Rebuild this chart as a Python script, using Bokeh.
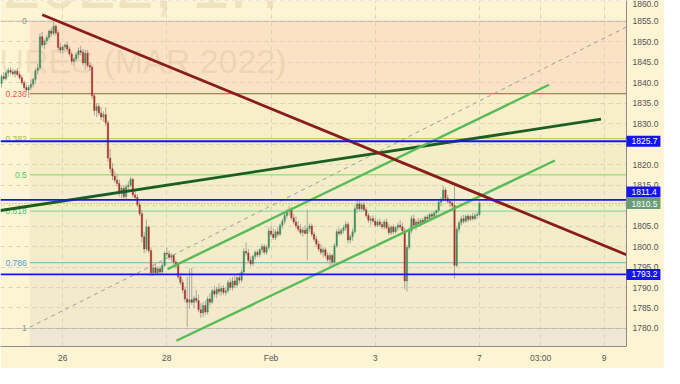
from bokeh.plotting import figure
from bokeh.models import Range1d, FixedTicker, PrintfTickFormatter, ColumnDataSource
from bokeh.embed import file_html
from bokeh.resources import INLINE
from bokeh.core.properties import value

# ---------------- data (1H candles, GCH2022) ----------------
bar_open = [
    1839.8, 1841.5, 1841.0, 1842.4, 1843.0, 1842.6, 1842.2, 1842.8, 1842.0, 1841.2,
    1840.0, 1838.8, 1838.2, 1838.9, 1839.6, 1840.8, 1842.9, 1843.6, 1851.2, 1849.2,
    1850.2, 1851.0, 1852.6, 1852.0, 1853.8, 1852.2, 1848.6, 1848.0, 1848.7, 1849.2,
    1848.2, 1847.0, 1845.2, 1845.8, 1846.8, 1847.8, 1847.4, 1844.8, 1847.2, 1844.2,
    1843.8, 1836.8, 1833.2, 1834.2, 1832.6, 1831.6, 1832.2, 1830.2, 1821.6, 1819.0,
    1817.2, 1816.2, 1815.4, 1813.0, 1814.2, 1812.2, 1814.6, 1815.0, 1816.4, 1812.6,
    1812.0, 1810.2, 1808.0, 1802.4, 1799.4, 1804.8, 1799.0, 1793.6, 1794.8, 1793.6,
    1794.6, 1793.8, 1795.4, 1798.4, 1798.2, 1797.4, 1797.8, 1796.2, 1795.4, 1792.6,
    1791.2, 1789.4, 1787.2, 1786.4, 1787.0, 1786.4, 1787.4, 1786.8, 1784.6, 1783.8,
    1785.6, 1784.0, 1787.2, 1786.4, 1789.2, 1788.4, 1789.6, 1789.0, 1789.8, 1788.8,
    1789.2, 1791.2, 1790.0, 1791.6, 1790.6, 1792.4, 1791.8, 1793.8, 1798.8, 1798.4,
    1796.6, 1795.8, 1797.6, 1798.6, 1798.0, 1799.2, 1800.0, 1798.6, 1799.8, 1803.8,
    1803.0, 1802.2, 1803.6, 1803.0, 1805.2, 1806.2, 1807.6, 1808.6, 1809.0, 1807.0,
    1806.0, 1805.0, 1804.2, 1803.4, 1804.0, 1803.2, 1804.4, 1805.0, 1803.0, 1801.8,
    1800.6, 1799.4, 1798.6, 1799.2, 1797.8, 1796.8, 1797.8, 1796.2, 1800.2, 1803.6,
    1803.2, 1804.0, 1804.6, 1805.4, 1801.6, 1802.4, 1803.6, 1809.2, 1810.4, 1809.2,
    1810.2, 1809.0, 1807.6, 1806.4, 1806.8, 1806.2, 1805.2, 1806.0, 1805.4, 1804.8,
    1806.0, 1804.6, 1803.4, 1804.8, 1803.6, 1804.6, 1805.2, 1804.8, 1803.8, 1791.6,
    1799.8, 1803.8, 1806.8, 1805.2, 1806.0, 1805.6, 1806.4, 1806.0, 1807.2, 1806.8,
    1807.8, 1807.4, 1808.2, 1808.8, 1810.8, 1811.4, 1813.8, 1811.8, 1811.0, 1810.6,
    1810.0, 1795.4, 1804.2, 1805.8, 1806.8, 1806.2, 1807.4, 1806.6, 1807.4, 1806.8,
    1807.6, 1807.8,
]
bar_high = [
    1842.0, 1842.6, 1843.0, 1843.6, 1843.8, 1843.4, 1843.2, 1843.5, 1842.8, 1841.8,
    1840.6, 1839.6, 1839.4, 1840.8, 1841.2, 1843.5, 1844.6, 1852.0, 1852.4, 1850.6,
    1851.6, 1853.0, 1853.4, 1855.0, 1854.2, 1852.8, 1849.8, 1849.2, 1849.6, 1850.0,
    1848.8, 1847.6, 1846.2, 1847.4, 1848.6, 1849.0, 1848.2, 1848.0, 1848.0, 1845.0,
    1844.4, 1837.4, 1835.0, 1835.0, 1834.0, 1833.0, 1834.0, 1830.8, 1823.8, 1820.4,
    1818.4, 1817.8, 1816.4, 1814.8, 1815.0, 1815.2, 1816.0, 1817.0, 1816.8, 1814.0,
    1812.8, 1811.0, 1809.0, 1803.6, 1806.6, 1805.2, 1799.8, 1795.6, 1796.0, 1795.2,
    1795.2, 1796.0, 1798.8, 1799.8, 1799.0, 1798.4, 1798.2, 1796.8, 1796.0, 1793.4,
    1792.0, 1790.2, 1792.6, 1794.6, 1794.8, 1788.0, 1789.4, 1788.2, 1786.2, 1786.4,
    1786.8, 1787.8, 1788.6, 1789.6, 1790.4, 1790.2, 1791.0, 1790.4, 1790.6, 1790.0,
    1791.8, 1792.2, 1792.6, 1793.0, 1792.8, 1793.6, 1794.4, 1799.6, 1801.0, 1799.4,
    1797.6, 1798.0, 1799.0, 1799.2, 1799.6, 1800.6, 1800.6, 1800.4, 1804.6, 1805.0,
    1804.4, 1804.2, 1804.8, 1805.6, 1806.8, 1808.2, 1809.2, 1809.8, 1809.6, 1808.0,
    1807.4, 1806.2, 1805.4, 1804.8, 1805.2, 1809.0, 1805.6, 1805.6, 1803.6, 1802.6,
    1801.4, 1800.6, 1799.8, 1799.8, 1798.6, 1798.4, 1798.2, 1800.8, 1804.2, 1804.6,
    1804.4, 1805.2, 1806.2, 1806.0, 1803.0, 1804.4, 1809.8, 1811.4, 1811.2, 1810.8,
    1810.8, 1809.6, 1808.2, 1807.4, 1807.6, 1807.0, 1806.6, 1806.8, 1806.2, 1806.6,
    1806.8, 1805.6, 1805.2, 1805.4, 1805.0, 1805.8, 1806.4, 1805.8, 1804.6, 1800.4,
    1804.6, 1807.6, 1807.8, 1806.6, 1807.0, 1806.8, 1807.0, 1807.6, 1807.8, 1808.2,
    1808.4, 1808.6, 1809.0, 1811.2, 1812.0, 1814.8, 1814.4, 1812.6, 1811.6, 1811.4,
    1815.2, 1804.8, 1806.4, 1807.6, 1807.8, 1807.8, 1808.0, 1807.8, 1808.2, 1808.2,
    1808.4, 1811.0,
]
bar_low = [
    1838.8, 1840.5, 1840.6, 1841.5, 1842.0, 1841.8, 1841.3, 1841.6, 1840.8, 1839.5,
    1838.3, 1837.6, 1836.3, 1838.2, 1838.8, 1839.8, 1842.0, 1843.0, 1848.6, 1848.2,
    1849.4, 1850.4, 1851.2, 1851.6, 1851.4, 1847.8, 1847.2, 1847.0, 1847.8, 1847.6,
    1846.4, 1844.4, 1844.0, 1845.0, 1846.0, 1846.6, 1844.2, 1843.2, 1843.6, 1842.8,
    1836.0, 1832.0, 1831.6, 1832.0, 1830.8, 1830.4, 1829.4, 1820.6, 1818.0, 1816.2,
    1815.6, 1814.6, 1812.2, 1811.8, 1811.4, 1811.6, 1813.8, 1814.4, 1812.0, 1811.2,
    1809.6, 1807.4, 1801.0, 1798.4, 1798.8, 1798.4, 1792.8, 1792.8, 1793.0, 1793.0,
    1793.2, 1793.2, 1795.0, 1797.6, 1796.8, 1796.4, 1795.6, 1794.6, 1792.0, 1790.6,
    1788.6, 1786.4, 1780.4, 1784.8, 1785.8, 1785.0, 1786.2, 1784.0, 1782.6, 1782.8,
    1783.2, 1783.4, 1785.6, 1786.0, 1787.6, 1787.4, 1788.2, 1788.0, 1788.2, 1788.0,
    1788.6, 1789.4, 1789.2, 1789.8, 1790.0, 1791.0, 1791.2, 1793.2, 1797.8, 1796.0,
    1795.2, 1795.2, 1796.8, 1797.4, 1797.4, 1798.4, 1798.0, 1798.0, 1799.2, 1802.4,
    1801.6, 1801.6, 1802.4, 1802.6, 1804.4, 1805.4, 1806.8, 1807.6, 1806.4, 1805.4,
    1804.4, 1803.6, 1802.8, 1802.4, 1803.0, 1796.6, 1803.6, 1802.4, 1801.2, 1800.0,
    1798.8, 1798.0, 1797.4, 1797.2, 1796.2, 1795.2, 1795.0, 1795.8, 1799.6, 1802.6,
    1802.8, 1803.2, 1803.8, 1800.8, 1800.8, 1801.4, 1803.0, 1808.2, 1808.6, 1808.4,
    1808.6, 1807.0, 1805.8, 1805.2, 1805.8, 1804.6, 1804.8, 1804.8, 1804.2, 1804.2,
    1804.2, 1802.8, 1802.8, 1803.0, 1803.2, 1803.8, 1804.2, 1803.6, 1789.6, 1789.0,
    1799.2, 1803.2, 1804.6, 1804.0, 1805.0, 1804.8, 1805.4, 1805.6, 1806.2, 1806.4,
    1806.8, 1807.0, 1807.4, 1808.2, 1809.8, 1811.0, 1811.0, 1810.6, 1809.6, 1809.4,
    1792.2, 1795.0, 1803.4, 1805.0, 1805.6, 1805.8, 1806.0, 1806.2, 1806.4, 1806.4,
    1806.8, 1807.4,
]
bar_close = [
    1841.5, 1841.0, 1842.4, 1843.0, 1842.6, 1842.2, 1842.8, 1842.0, 1841.2, 1840.0,
    1838.8, 1838.2, 1838.9, 1839.6, 1840.8, 1842.9, 1843.6, 1851.2, 1849.2, 1850.2,
    1851.0, 1852.6, 1852.0, 1853.8, 1852.2, 1848.6, 1848.0, 1848.7, 1849.2, 1848.2,
    1847.0, 1845.2, 1845.8, 1846.8, 1847.8, 1847.4, 1844.8, 1847.2, 1844.2, 1843.8,
    1836.8, 1833.2, 1834.2, 1832.6, 1831.6, 1832.2, 1830.2, 1821.6, 1819.0, 1817.2,
    1816.2, 1815.4, 1813.0, 1814.2, 1812.2, 1814.6, 1815.0, 1816.4, 1812.6, 1812.0,
    1810.2, 1808.0, 1802.4, 1799.4, 1804.8, 1799.0, 1793.6, 1794.8, 1793.6, 1794.6,
    1793.8, 1795.4, 1798.4, 1798.2, 1797.4, 1797.8, 1796.2, 1795.4, 1792.6, 1791.2,
    1789.4, 1787.2, 1786.4, 1787.0, 1786.4, 1787.4, 1786.8, 1784.6, 1783.8, 1785.6,
    1784.0, 1787.2, 1786.4, 1789.2, 1788.4, 1789.6, 1789.0, 1789.8, 1788.8, 1789.2,
    1791.2, 1790.0, 1791.6, 1790.6, 1792.4, 1791.8, 1793.8, 1798.8, 1798.4, 1796.6,
    1795.8, 1797.6, 1798.6, 1798.0, 1799.2, 1800.0, 1798.6, 1799.8, 1803.8, 1803.0,
    1802.2, 1803.6, 1803.0, 1805.2, 1806.2, 1807.6, 1808.6, 1809.0, 1807.0, 1806.0,
    1805.0, 1804.2, 1803.4, 1804.0, 1803.2, 1804.4, 1805.0, 1803.0, 1801.8, 1800.6,
    1799.4, 1798.6, 1799.2, 1797.8, 1796.8, 1797.8, 1796.2, 1800.2, 1803.6, 1803.2,
    1804.0, 1804.6, 1805.4, 1801.6, 1802.4, 1803.6, 1809.2, 1810.4, 1809.2, 1810.2,
    1809.0, 1807.6, 1806.4, 1806.8, 1806.2, 1805.2, 1806.0, 1805.4, 1804.8, 1806.0,
    1804.6, 1803.4, 1804.8, 1803.6, 1804.6, 1805.2, 1804.8, 1803.8, 1791.6, 1799.8,
    1803.8, 1806.8, 1805.2, 1806.0, 1805.6, 1806.4, 1806.0, 1807.2, 1806.8, 1807.8,
    1807.4, 1808.2, 1808.8, 1810.8, 1811.4, 1813.8, 1811.8, 1811.0, 1810.6, 1810.0,
    1795.4, 1804.2, 1805.8, 1806.8, 1806.2, 1807.4, 1806.6, 1807.4, 1806.8, 1807.6,
    1807.8, 1810.5,
]

# time axis (bar index of each label)
tick_bars = [27, 73, 119, 165, 211, 238, 266]
tick_labels = ["26", "28", "Feb", "3", "7", "03:00", "9"]
price_ticks = [1780, 1785, 1790, 1795, 1800, 1805, 1810, 1815, 1820, 1825,
               1830, 1835, 1840, 1845, 1850, 1855, 1860]
hidden_price_ticks = [1810, 1825]   # covered by the price boxes in the original

# fibonacci retracement
fib_ratios = [0, 0.236, 0.382, 0.5, 0.618, 0.786, 1]
fib_labels = ["0", "0.236", "0.382", "0.5", "0.618", "0.786", "1"]
fib_high = 1855.0
fib_low = 1780.0
fib_start_bar = 12.5

# horizontal levels
level_prices = [1825.7, 1811.4, 1793.2]
last_price = 1810.5

# trend lines: (bar, price) endpoints
maroon_line = ([18.0, 275.9], [1856.6, 1798.0])
dark_green_line = ([-0.43, 264.7], [1808.8, 1831.1])
channel_upper = ([73.3, 241.7], [1794.5, 1839.5])
channel_lower = ([77.2, 244.3], [1777.0, 1821.0])
fib_trend = ([12.5, 275.9], [1780.3, 1853.6])

# layout constants
X_START, X_END, X_MAX = -0.43, 275.9, 292.7   # X_END = price-scale edge
Y_MIN, Y_MAX = 1775.6, 1860.06
BOX_CENTER_SHIFT = 7.5                          # bars, box centre right of the scale edge
BOX_SHIFT = [0.0, 1.9, 0.0, 0.0]               # label de-overlap (price units)

BG = "#fdf4d3"
UP = "#3d8e5d"
DOWN = "#a8322a"
WICK = "#a9a79e"
BLUE = "#1414f0"
FONT = "Liberation Sans"

p = figure(width=664, height=368, output_backend="svg", toolbar_location=None,
           x_range=Range1d(X_START, X_MAX), y_range=Range1d(Y_MIN, Y_MAX),
           y_axis_location="right", min_border_left=0, min_border_top=0,
           min_border_right=0, min_border_bottom=22)
p.background_fill_color = BG
p.border_fill_color = BG
p.outline_line_color = None

# fib bands
fib_prices = [fib_high - r * (fib_high - fib_low) for r in fib_ratios]
band_colors = ["#fbe2c4", "#f8eec7", "#f4eec6", "#f3eec8", "#f2ecc8", "#f3eacb"]
p.quad(left=[fib_start_bar] * 6, right=[X_END] * 6,
       top=fib_prices[:-1], bottom=fib_prices[1:], fill_color=band_colors,
       line_color=None, level="image")
p.quad(left=[fib_start_bar], right=[X_END], top=[fib_low], bottom=[Y_MIN],
       fill_color="#efe6d3", line_color=None, level="image")

# price-scale strip (covers grid)
p.quad(left=[X_END], right=[X_MAX], top=[Y_MAX], bottom=[Y_MIN],
       fill_color=BG, line_color=None)

# watermark
p.text(x=[122.4], y=[1864.1], text=["GCH2022, 1H"], text_align="right",
       text_baseline="alphabetic", text_font=value(FONT), text_font_size="68px",
       text_color="#a88a55", text_alpha=0.16, level="underlay")
p.text(x=[125.9], y=[1845.3], text=["GOLD FUTURES (MAR 2022)"], text_align="right",
       text_baseline="alphabetic", text_font=value(FONT), text_font_size="34px",
       text_color="#a88a55", text_alpha=0.16, level="underlay")

# fib lines
fib_line_colors = ["#9a9a9a", "#c9473a", "#b7cc45", "#7fd56a", "#7ad59c", "#6ab5c6", "#9a9a9a"]
fib_text_colors = ["#8f8f8f", "#e5584c", "#a3bd36", "#55cc55", "#45bf86", "#4a9fd8", "#8f8f8f"]
for k in (1, 2, 3, 4, 5):
    p.segment(x0=[fib_start_bar], y0=[fib_prices[k]], x1=[X_END], y1=[fib_prices[k]],
              line_color=fib_line_colors[k], line_width=1)
for k in (0, 6):
    p.segment(x0=[X_START], y0=[fib_prices[k]], x1=[X_END], y1=[fib_prices[k]],
              line_color="#9a9a9a", line_width=1, line_dash="1 1")
p.text(x=[fib_start_bar] * 7, y=fib_prices, text=fib_labels, text_color=fib_text_colors,
       text_align="right", text_baseline="middle", x_offset=-3,
       text_font=value(FONT), text_font_size="8.5px")

# last price dotted line
p.segment(x0=[X_START], y0=[last_price], x1=[X_END], y1=[last_price],
          line_color="#8fa690", line_width=1, line_dash="1 2")

# fib trend (dashed diagonal)
p.line(fib_trend[0], fib_trend[1], line_color="#9c9c9c", line_width=1, line_dash="4 4")

# candles
n = len(bar_close)
idx = list(range(n))
src = ColumnDataSource(dict(
    x=idx, h=bar_high, l=bar_low,
    top=[max(o, c) for o, c in zip(bar_open, bar_close)],
    bottom=[min(o, c) for o, c in zip(bar_open, bar_close)],
    color=[UP if c >= o else DOWN for o, c in zip(bar_open, bar_close)],
))
p.segment(x0="x", y0="l", x1="x", y1="h", source=src, line_color=WICK, line_width=1)
p.vbar(x="x", width=0.62, top="top", bottom="bottom", source=src,
       fill_color="color", line_color="color", line_width=0.4)

# trend lines
p.line(dark_green_line[0], dark_green_line[1], line_color="#1c5e22", line_width=2.8)
p.line(channel_upper[0], channel_upper[1], line_color="#58bb58", line_width=2.4)
p.line(channel_lower[0], channel_lower[1], line_color="#58bb58", line_width=2.4)
p.line(maroon_line[0], maroon_line[1], line_color="#8a1c1c", line_width=2.8)

# blue horizontal levels
p.segment(x0=[X_START] * 3, y0=level_prices, x1=[X_END] * 3, y1=level_prices,
          line_color=BLUE, line_width=1.8)

# axes
p.xaxis.ticker = FixedTicker(ticks=tick_bars)
p.xaxis.major_label_overrides = {b: t for b, t in zip(tick_bars, tick_labels)}
p.xaxis.bounds = (X_START, X_END)
p.yaxis.ticker = FixedTicker(ticks=price_ticks)
p.yaxis.formatter = PrintfTickFormatter(format="%.1f")
p.yaxis.major_label_overrides = {t: "" for t in hidden_price_ticks}
p.yaxis.fixed_location = X_END
for ax in (p.xaxis, p.yaxis):
    ax.major_tick_out = 0
    ax.major_tick_in = 0
    ax.minor_tick_out = 0
    ax.minor_tick_in = 0
    ax.axis_line_color = "#8c8c8c"
    ax.major_label_text_font = FONT
    ax.major_label_text_font_size = "8.5px"
    ax.major_label_text_color = "#555555"
p.xaxis.major_label_standoff = 6
p.yaxis.major_label_standoff = 6

p.xgrid.ticker = FixedTicker(ticks=tick_bars)
p.ygrid.ticker = FixedTicker(ticks=price_ticks)
for g in (p.xgrid, p.ygrid):
    g.grid_line_color = "#d9d2bc"
    g.grid_line_dash = "4 4"
    g.grid_line_width = 1

# price labels on the price scale
box_prices = level_prices + [last_price]
box_colors = [BLUE, BLUE, BLUE, "#699c77"]
box_y = [pr + s for pr, s in zip(box_prices, BOX_SHIFT)]
p.rect(x=[X_END + BOX_CENTER_SHIFT] * 4, y=box_y, width=34, height=11,
       width_units="screen", height_units="screen", fill_color=box_colors,
       line_color=None, level="overlay")
p.text(x=[X_END] * 4, y=box_y, text=[f"{pr:.1f}" for pr in box_prices],
       text_color="white", text_align="left", text_baseline="middle", x_offset=5,
       text_font=value(FONT), text_font_size="8.5px", level="overlay")

open("out.html", "w").write(file_html(p, INLINE))
